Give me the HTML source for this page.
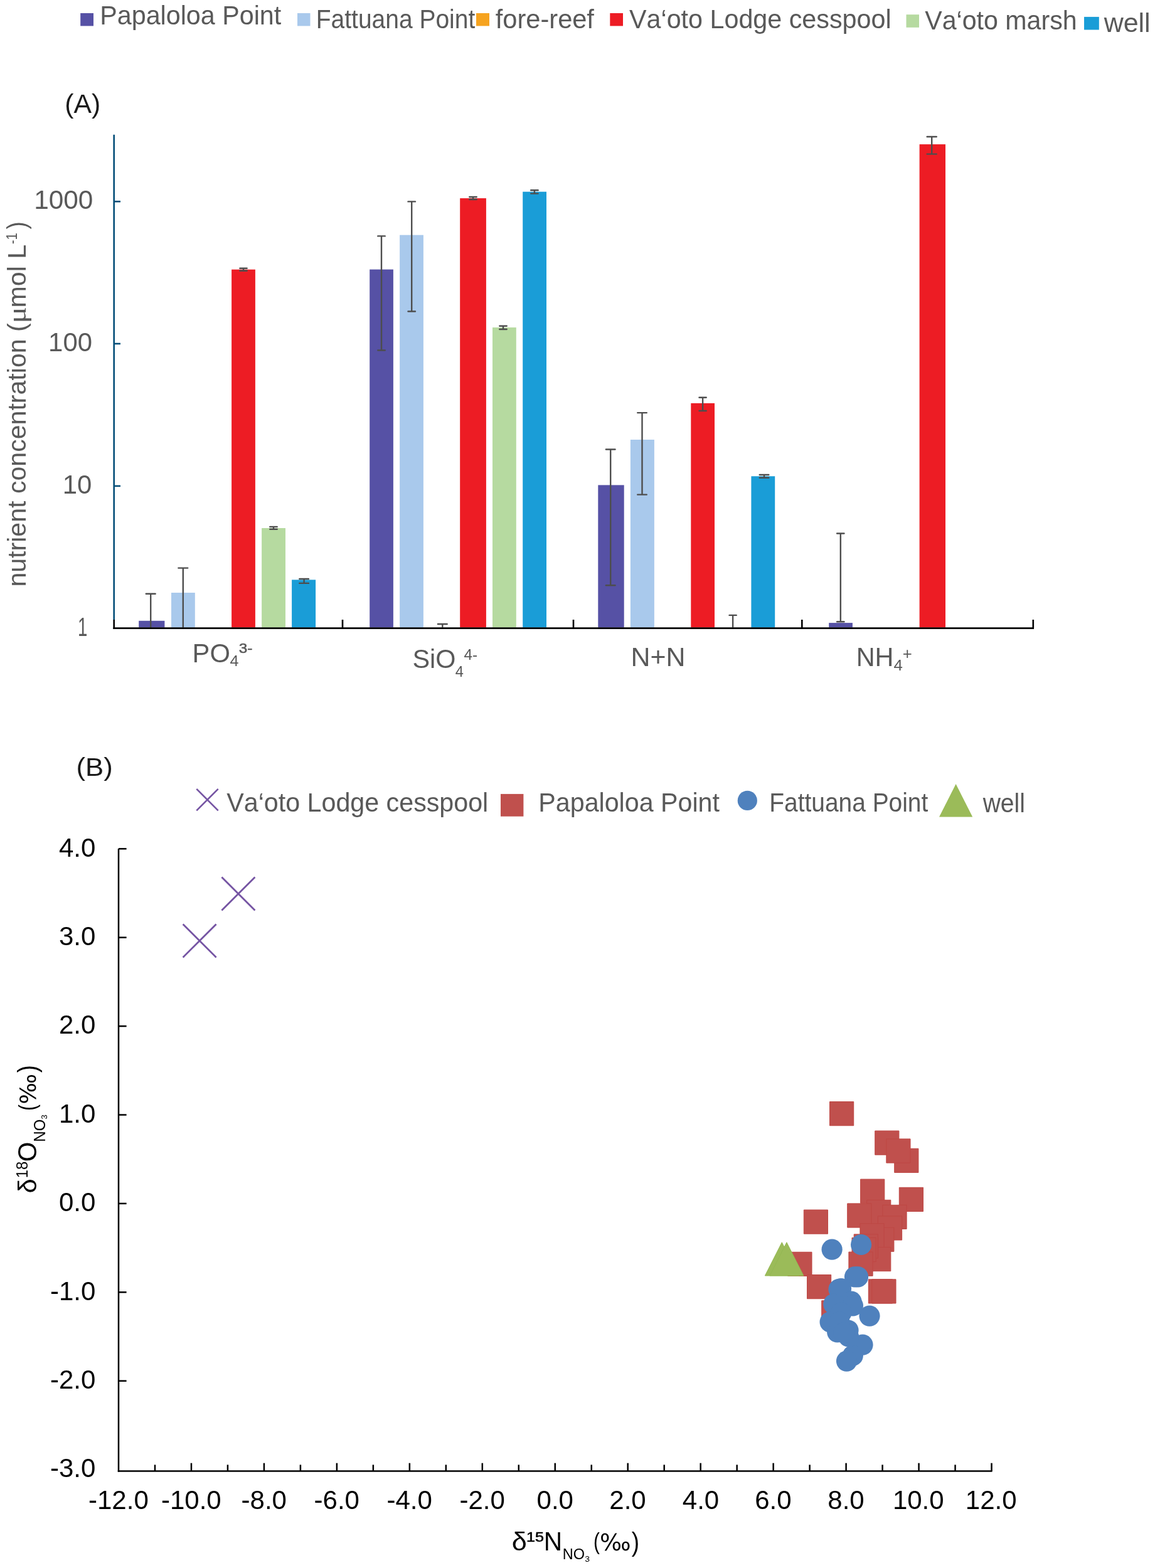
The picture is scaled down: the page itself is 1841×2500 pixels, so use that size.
<!DOCTYPE html>
<html><head><meta charset="utf-8"><title>Figure</title>
<style>html,body{margin:0;padding:0;background:#fff;width:1841px;height:2500px;overflow:hidden}svg{display:block}</style></head>
<body><svg width="1841" height="2500" viewBox="0 0 1841 2500">
<rect width="1841" height="2500" fill="#fff"/>
<rect x="128.20" y="21.00" width="20.80" height="20.40" fill="#5651A5" />
<text x="159.21" y="39.30" textLength="289.09" lengthAdjust="spacingAndGlyphs" style="font-family:'Liberation Sans',Arial,sans-serif;font-size:42px;fill:#595959;font-kerning:none" >Papaloloa Point</text>
<rect x="474.00" y="21.00" width="20.50" height="20.40" fill="#A9C9EC" />
<text x="503.80" y="45.00" textLength="253.48" lengthAdjust="spacingAndGlyphs" style="font-family:'Liberation Sans',Arial,sans-serif;font-size:42px;fill:#595959;font-kerning:none" >Fattuana Point</text>
<rect x="759.00" y="21.00" width="21.00" height="20.40" fill="#F6A31F" />
<text x="789.81" y="45.00" textLength="157.13" lengthAdjust="spacingAndGlyphs" style="font-family:'Liberation Sans',Arial,sans-serif;font-size:42px;fill:#595959;font-kerning:none" >fore-reef</text>
<rect x="972.30" y="21.00" width="20.70" height="20.40" fill="#ED1C24" />
<text x="1003.02" y="45.00" textLength="417.54" lengthAdjust="spacingAndGlyphs" style="font-family:'Liberation Sans',Arial,sans-serif;font-size:42px;fill:#595959;font-kerning:none" >Va‘oto Lodge cesspool</text>
<rect x="1444.50" y="23.20" width="20.50" height="20.60" fill="#B6DAA0" />
<text x="1474.22" y="47.20" textLength="242.45" lengthAdjust="spacingAndGlyphs" style="font-family:'Liberation Sans',Arial,sans-serif;font-size:42px;fill:#595959;font-kerning:none" >Va‘oto marsh</text>
<rect x="1728.00" y="26.90" width="23.80" height="20.60" fill="#1A9DD7" />
<text x="1759.66" y="50.60" textLength="74.01" lengthAdjust="spacingAndGlyphs" style="font-family:'Liberation Sans',Arial,sans-serif;font-size:42px;fill:#595959;font-kerning:none" >well</text>
<text x="103.15" y="179.90" textLength="57.00" lengthAdjust="spacingAndGlyphs" style="font-family:'Liberation Sans',Arial,sans-serif;font-size:42px;fill:#1a1a1a;font-kerning:none" >(A)</text>
<rect x="221.20" y="989.80" width="41.20" height="10.70" fill="#5651A5" />
<rect x="273.00" y="945.00" width="37.80" height="55.50" fill="#A9C9EC" />
<rect x="369.10" y="429.70" width="37.80" height="570.80" fill="#ED1C24" />
<rect x="417.10" y="842.00" width="37.90" height="158.50" fill="#B6DAA0" />
<rect x="465.10" y="924.40" width="38.00" height="76.10" fill="#1A9DD7" />
<rect x="589.20" y="429.60" width="37.70" height="570.90" fill="#5651A5" />
<rect x="637.10" y="374.70" width="37.80" height="625.80" fill="#A9C9EC" />
<rect x="733.20" y="316.10" width="41.70" height="684.40" fill="#ED1C24" />
<rect x="785.00" y="522.10" width="37.80" height="478.40" fill="#B6DAA0" />
<rect x="833.20" y="305.70" width="37.80" height="694.80" fill="#1A9DD7" />
<rect x="953.30" y="773.40" width="41.40" height="227.10" fill="#5651A5" />
<rect x="1004.90" y="701.00" width="38.00" height="299.50" fill="#A9C9EC" />
<rect x="1101.30" y="642.90" width="37.70" height="357.60" fill="#ED1C24" />
<rect x="1197.40" y="759.30" width="37.80" height="241.20" fill="#1A9DD7" />
<rect x="1321.20" y="993.10" width="37.70" height="7.40" fill="#5651A5" />
<rect x="1465.60" y="230.10" width="41.40" height="770.40" fill="#ED1C24" />
<line x1="240.20" y1="946.70" x2="240.20" y2="1000.50" stroke="#4D4D4D" stroke-width="2.4"/>
<line x1="232.75" y1="946.70" x2="247.65" y2="946.70" stroke="#4D4D4D" stroke-width="2.4" stroke-linecap="round"/>
<line x1="291.80" y1="905.60" x2="291.80" y2="1000.50" stroke="#4D4D4D" stroke-width="2.4"/>
<line x1="284.40" y1="905.60" x2="299.20" y2="905.60" stroke="#4D4D4D" stroke-width="2.4" stroke-linecap="round"/>
<line x1="388.00" y1="427.70" x2="388.00" y2="431.80" stroke="#4D4D4D" stroke-width="2.4"/>
<line x1="382.40" y1="427.70" x2="393.60" y2="427.70" stroke="#4D4D4D" stroke-width="2.4" stroke-linecap="round"/>
<line x1="382.40" y1="431.80" x2="393.60" y2="431.80" stroke="#4D4D4D" stroke-width="2.4" stroke-linecap="round"/>
<line x1="436.00" y1="839.90" x2="436.00" y2="843.80" stroke="#4D4D4D" stroke-width="2.4"/>
<line x1="430.30" y1="839.90" x2="441.70" y2="839.90" stroke="#4D4D4D" stroke-width="2.4" stroke-linecap="round"/>
<line x1="430.30" y1="843.80" x2="441.70" y2="843.80" stroke="#4D4D4D" stroke-width="2.4" stroke-linecap="round"/>
<line x1="484.60" y1="923.00" x2="484.60" y2="929.90" stroke="#4D4D4D" stroke-width="2.4"/>
<line x1="477.30" y1="923.00" x2="491.90" y2="923.00" stroke="#4D4D4D" stroke-width="2.4" stroke-linecap="round"/>
<line x1="477.30" y1="929.90" x2="491.90" y2="929.90" stroke="#4D4D4D" stroke-width="2.4" stroke-linecap="round"/>
<line x1="608.00" y1="376.40" x2="608.00" y2="558.50" stroke="#4D4D4D" stroke-width="2.4"/>
<line x1="602.30" y1="376.40" x2="613.70" y2="376.40" stroke="#4D4D4D" stroke-width="2.4" stroke-linecap="round"/>
<line x1="602.30" y1="558.50" x2="613.70" y2="558.50" stroke="#4D4D4D" stroke-width="2.4" stroke-linecap="round"/>
<line x1="656.20" y1="321.40" x2="656.20" y2="496.50" stroke="#4D4D4D" stroke-width="2.4"/>
<line x1="650.50" y1="321.40" x2="661.90" y2="321.40" stroke="#4D4D4D" stroke-width="2.4" stroke-linecap="round"/>
<line x1="650.50" y1="496.50" x2="661.90" y2="496.50" stroke="#4D4D4D" stroke-width="2.4" stroke-linecap="round"/>
<line x1="705.30" y1="995.00" x2="705.30" y2="1000.50" stroke="#4D4D4D" stroke-width="2.4"/>
<line x1="697.90" y1="995.00" x2="712.70" y2="995.00" stroke="#4D4D4D" stroke-width="2.4" stroke-linecap="round"/>
<line x1="754.00" y1="314.00" x2="754.00" y2="318.00" stroke="#4D4D4D" stroke-width="2.4"/>
<line x1="748.30" y1="314.00" x2="759.70" y2="314.00" stroke="#4D4D4D" stroke-width="2.4" stroke-linecap="round"/>
<line x1="748.30" y1="318.00" x2="759.70" y2="318.00" stroke="#4D4D4D" stroke-width="2.4" stroke-linecap="round"/>
<line x1="802.00" y1="519.70" x2="802.00" y2="525.00" stroke="#4D4D4D" stroke-width="2.4"/>
<line x1="796.30" y1="519.70" x2="807.70" y2="519.70" stroke="#4D4D4D" stroke-width="2.4" stroke-linecap="round"/>
<line x1="796.30" y1="525.00" x2="807.70" y2="525.00" stroke="#4D4D4D" stroke-width="2.4" stroke-linecap="round"/>
<line x1="851.90" y1="303.20" x2="851.90" y2="308.60" stroke="#4D4D4D" stroke-width="2.4"/>
<line x1="846.20" y1="303.20" x2="857.60" y2="303.20" stroke="#4D4D4D" stroke-width="2.4" stroke-linecap="round"/>
<line x1="846.20" y1="308.60" x2="857.60" y2="308.60" stroke="#4D4D4D" stroke-width="2.4" stroke-linecap="round"/>
<line x1="973.20" y1="716.50" x2="973.20" y2="933.20" stroke="#4D4D4D" stroke-width="2.4"/>
<line x1="965.90" y1="716.50" x2="980.50" y2="716.50" stroke="#4D4D4D" stroke-width="2.4" stroke-linecap="round"/>
<line x1="965.90" y1="933.20" x2="980.50" y2="933.20" stroke="#4D4D4D" stroke-width="2.4" stroke-linecap="round"/>
<line x1="1023.50" y1="658.10" x2="1023.50" y2="788.60" stroke="#4D4D4D" stroke-width="2.4"/>
<line x1="1016.20" y1="658.10" x2="1030.80" y2="658.10" stroke="#4D4D4D" stroke-width="2.4" stroke-linecap="round"/>
<line x1="1016.20" y1="788.60" x2="1030.80" y2="788.60" stroke="#4D4D4D" stroke-width="2.4" stroke-linecap="round"/>
<line x1="1120.10" y1="633.70" x2="1120.10" y2="655.00" stroke="#4D4D4D" stroke-width="2.4"/>
<line x1="1114.50" y1="633.70" x2="1125.70" y2="633.70" stroke="#4D4D4D" stroke-width="2.4" stroke-linecap="round"/>
<line x1="1114.50" y1="655.00" x2="1125.70" y2="655.00" stroke="#4D4D4D" stroke-width="2.4" stroke-linecap="round"/>
<line x1="1168.10" y1="980.90" x2="1168.10" y2="1000.50" stroke="#4D4D4D" stroke-width="2.4"/>
<line x1="1162.50" y1="980.90" x2="1173.70" y2="980.90" stroke="#4D4D4D" stroke-width="2.4" stroke-linecap="round"/>
<line x1="1218.00" y1="757.00" x2="1218.00" y2="761.70" stroke="#4D4D4D" stroke-width="2.4"/>
<line x1="1210.70" y1="757.00" x2="1225.30" y2="757.00" stroke="#4D4D4D" stroke-width="2.4" stroke-linecap="round"/>
<line x1="1210.70" y1="761.70" x2="1225.30" y2="761.70" stroke="#4D4D4D" stroke-width="2.4" stroke-linecap="round"/>
<line x1="1339.80" y1="850.50" x2="1339.80" y2="991.20" stroke="#4D4D4D" stroke-width="2.4"/>
<line x1="1334.15" y1="850.50" x2="1345.45" y2="850.50" stroke="#4D4D4D" stroke-width="2.4" stroke-linecap="round"/>
<line x1="1334.15" y1="991.20" x2="1345.45" y2="991.20" stroke="#4D4D4D" stroke-width="2.4" stroke-linecap="round"/>
<line x1="1485.20" y1="218.00" x2="1485.20" y2="245.60" stroke="#4D4D4D" stroke-width="2.4"/>
<line x1="1477.65" y1="218.00" x2="1492.75" y2="218.00" stroke="#4D4D4D" stroke-width="2.4" stroke-linecap="round"/>
<line x1="1477.65" y1="245.60" x2="1492.75" y2="245.60" stroke="#4D4D4D" stroke-width="2.4" stroke-linecap="round"/>
<line x1="181.70" y1="214.70" x2="181.70" y2="988.00" stroke="#044E78" stroke-width="2.6"/>
<line x1="181.70" y1="988.00" x2="181.70" y2="1003.00" stroke="#000" stroke-width="2.6"/>
<line x1="181.70" y1="321.30" x2="192.00" y2="321.30" stroke="#044E78" stroke-width="2.6"/>
<line x1="181.70" y1="548.00" x2="192.00" y2="548.00" stroke="#044E78" stroke-width="2.6"/>
<line x1="181.70" y1="774.90" x2="192.00" y2="774.90" stroke="#044E78" stroke-width="2.6"/>
<line x1="180.40" y1="1001.70" x2="1648.00" y2="1001.70" stroke="#000" stroke-width="2.8"/>
<line x1="546.00" y1="988.00" x2="546.00" y2="1001.70" stroke="#000" stroke-width="2.6"/>
<line x1="914.00" y1="988.00" x2="914.00" y2="1001.70" stroke="#000" stroke-width="2.6"/>
<line x1="1278.30" y1="988.00" x2="1278.30" y2="1001.70" stroke="#000" stroke-width="2.6"/>
<line x1="1646.80" y1="988.00" x2="1646.80" y2="1001.70" stroke="#000" stroke-width="2.6"/>
<text x="54.18" y="333.40" textLength="94.18" lengthAdjust="spacingAndGlyphs" style="font-family:'Liberation Sans',Arial,sans-serif;font-size:42px;fill:#595959;font-kerning:none" >1000</text>
<text x="77.11" y="560.00" textLength="69.82" lengthAdjust="spacingAndGlyphs" style="font-family:'Liberation Sans',Arial,sans-serif;font-size:42px;fill:#595959;font-kerning:none" >100</text>
<text x="99.81" y="787.00" textLength="46.63" lengthAdjust="spacingAndGlyphs" style="font-family:'Liberation Sans',Arial,sans-serif;font-size:42px;fill:#595959;font-kerning:none" >10</text>
<text x="123.90" y="1013.90" textLength="15.35" lengthAdjust="spacingAndGlyphs" style="font-family:'Liberation Sans',Arial,sans-serif;font-size:42px;fill:#595959;font-kerning:none" >1</text>
<text x="306.58" y="1055.70" textLength="60.32" lengthAdjust="spacingAndGlyphs" style="font-family:'Liberation Sans',Arial,sans-serif;font-size:42px;fill:#595959;font-kerning:none" >PO</text>
<text x="366.62" y="1061.90" textLength="14.02" lengthAdjust="spacingAndGlyphs" style="font-family:'Liberation Sans',Arial,sans-serif;font-size:24px;fill:#595959;font-kerning:none" >4</text>
<text x="380.67" y="1041.40" textLength="21.61" lengthAdjust="spacingAndGlyphs" style="font-family:'Liberation Sans',Arial,sans-serif;font-size:22px;fill:#595959;font-kerning:none" stroke="#595959" stroke-width="0.6">3-</text>
<text x="657.42" y="1065.30" textLength="68.96" lengthAdjust="spacingAndGlyphs" style="font-family:'Liberation Sans',Arial,sans-serif;font-size:42px;fill:#595959;font-kerning:none" >SiO</text>
<text x="725.76" y="1078.70" textLength="13.13" lengthAdjust="spacingAndGlyphs" style="font-family:'Liberation Sans',Arial,sans-serif;font-size:24px;fill:#595959;font-kerning:none" >4</text>
<text x="739.44" y="1051.50" textLength="21.64" lengthAdjust="spacingAndGlyphs" style="font-family:'Liberation Sans',Arial,sans-serif;font-size:24px;fill:#595959;font-kerning:none" >4-</text>
<text x="1005.49" y="1062.30" textLength="86.91" lengthAdjust="spacingAndGlyphs" style="font-family:'Liberation Sans',Arial,sans-serif;font-size:42px;fill:#595959;font-kerning:none" >N+N</text>
<text x="1364.71" y="1062.30" textLength="59.77" lengthAdjust="spacingAndGlyphs" style="font-family:'Liberation Sans',Arial,sans-serif;font-size:42px;fill:#595959;font-kerning:none" >NH</text>
<text x="1424.61" y="1068.50" textLength="14.35" lengthAdjust="spacingAndGlyphs" style="font-family:'Liberation Sans',Arial,sans-serif;font-size:24px;fill:#595959;font-kerning:none" >4</text>
<text x="1438.64" y="1051.00" textLength="15.03" lengthAdjust="spacingAndGlyphs" style="font-family:'Liberation Sans',Arial,sans-serif;font-size:26px;fill:#595959;font-kerning:none" >+</text>
<text transform="translate(40.80,932.90) rotate(-90)" x="-2.73" y="0" textLength="420.37" lengthAdjust="spacingAndGlyphs" style="font-family:'Liberation Sans',Arial,sans-serif;font-size:41px;fill:#595959;font-kerning:none">nutrient concentration (</text>
<text transform="translate(40.90,511.50) rotate(-90)" x="-3.97" y="0" textLength="26.28" lengthAdjust="spacingAndGlyphs" style="font-family:'Liberation Serif',serif;font-size:41px;fill:#595959;font-kerning:none">μ</text>
<text transform="translate(40.90,487.80) rotate(-90)" x="-2.73" y="0" textLength="100.70" lengthAdjust="spacingAndGlyphs" style="font-family:'Liberation Sans',Arial,sans-serif;font-size:41px;fill:#595959;font-kerning:none">mol L</text>
<text transform="translate(26.90,388.30) rotate(-90)" x="-0.90" y="0" textLength="18.10" lengthAdjust="spacingAndGlyphs" style="font-family:'Liberation Sans',Arial,sans-serif;font-size:24px;fill:#595959;font-kerning:none">-1</text>
<text transform="translate(40.90,365.30) rotate(-90)" x="-0.21" y="0" textLength="12.18" lengthAdjust="spacingAndGlyphs" style="font-family:'Liberation Sans',Arial,sans-serif;font-size:42px;fill:#595959;font-kerning:none">)</text>
<text x="121.49" y="1237.20" textLength="58.22" lengthAdjust="spacingAndGlyphs" style="font-family:'Liberation Sans',Arial,sans-serif;font-size:41px;fill:#1a1a1a;font-kerning:none" >(B)</text>
<path d="M313.30,1257.90L347.70,1292.30M313.30,1292.30L347.70,1257.90" stroke="#7554A3" stroke-width="2.6" fill="none"/>
<text x="361.32" y="1294.20" textLength="416.94" lengthAdjust="spacingAndGlyphs" style="font-family:'Liberation Sans',Arial,sans-serif;font-size:42px;fill:#595959;font-kerning:none" >Va‘oto Lodge cesspool</text>
<rect x="798.00" y="1265.90" width="36.40" height="35.80" fill="#C0504D" />
<text x="858.32" y="1293.80" textLength="288.68" lengthAdjust="spacingAndGlyphs" style="font-family:'Liberation Sans',Arial,sans-serif;font-size:42px;fill:#595959;font-kerning:none" >Papaloloa Point</text>
<circle cx="1191.3" cy="1276.4" r="15.6" fill="#4F81BD"/>
<text x="1226.31" y="1293.80" textLength="252.98" lengthAdjust="spacingAndGlyphs" style="font-family:'Liberation Sans',Arial,sans-serif;font-size:42px;fill:#595959;font-kerning:none" >Fattuana Point</text>
<polygon points="1523.6,1250 1550.2,1302.6 1497,1302.6" fill="#9BBB59"/>
<text x="1566.66" y="1295.40" textLength="67.25" lengthAdjust="spacingAndGlyphs" style="font-family:'Liberation Sans',Arial,sans-serif;font-size:42px;fill:#595959;font-kerning:none" >well</text>
<line x1="189.00" y1="1353.30" x2="189.00" y2="2346.80" stroke="#000" stroke-width="2.5"/>
<line x1="189.00" y1="1353.30" x2="201.60" y2="1353.30" stroke="#000" stroke-width="2.5"/>
<line x1="189.00" y1="1494.70" x2="201.60" y2="1494.70" stroke="#000" stroke-width="2.5"/>
<line x1="189.00" y1="1636.10" x2="201.60" y2="1636.10" stroke="#000" stroke-width="2.5"/>
<line x1="189.00" y1="1777.50" x2="201.60" y2="1777.50" stroke="#000" stroke-width="2.5"/>
<line x1="189.00" y1="1918.90" x2="201.60" y2="1918.90" stroke="#000" stroke-width="2.5"/>
<line x1="189.00" y1="2060.30" x2="201.60" y2="2060.30" stroke="#000" stroke-width="2.5"/>
<line x1="189.00" y1="2201.70" x2="201.60" y2="2201.70" stroke="#000" stroke-width="2.5"/>
<line x1="187.80" y1="2345.50" x2="1581.50" y2="2345.50" stroke="#000" stroke-width="2.6"/>
<line x1="246.98" y1="2335.40" x2="246.98" y2="2345.50" stroke="#000" stroke-width="2.5"/>
<line x1="304.96" y1="2332.70" x2="304.96" y2="2345.50" stroke="#000" stroke-width="2.5"/>
<line x1="362.94" y1="2335.40" x2="362.94" y2="2345.50" stroke="#000" stroke-width="2.5"/>
<line x1="420.92" y1="2332.70" x2="420.92" y2="2345.50" stroke="#000" stroke-width="2.5"/>
<line x1="478.90" y1="2335.40" x2="478.90" y2="2345.50" stroke="#000" stroke-width="2.5"/>
<line x1="536.88" y1="2332.70" x2="536.88" y2="2345.50" stroke="#000" stroke-width="2.5"/>
<line x1="594.86" y1="2335.40" x2="594.86" y2="2345.50" stroke="#000" stroke-width="2.5"/>
<line x1="652.84" y1="2332.70" x2="652.84" y2="2345.50" stroke="#000" stroke-width="2.5"/>
<line x1="710.82" y1="2335.40" x2="710.82" y2="2345.50" stroke="#000" stroke-width="2.5"/>
<line x1="768.80" y1="2332.70" x2="768.80" y2="2345.50" stroke="#000" stroke-width="2.5"/>
<line x1="826.78" y1="2335.40" x2="826.78" y2="2345.50" stroke="#000" stroke-width="2.5"/>
<line x1="884.76" y1="2332.70" x2="884.76" y2="2345.50" stroke="#000" stroke-width="2.5"/>
<line x1="942.74" y1="2335.40" x2="942.74" y2="2345.50" stroke="#000" stroke-width="2.5"/>
<line x1="1000.72" y1="2332.70" x2="1000.72" y2="2345.50" stroke="#000" stroke-width="2.5"/>
<line x1="1058.70" y1="2335.40" x2="1058.70" y2="2345.50" stroke="#000" stroke-width="2.5"/>
<line x1="1116.68" y1="2332.70" x2="1116.68" y2="2345.50" stroke="#000" stroke-width="2.5"/>
<line x1="1174.66" y1="2335.40" x2="1174.66" y2="2345.50" stroke="#000" stroke-width="2.5"/>
<line x1="1232.64" y1="2332.70" x2="1232.64" y2="2345.50" stroke="#000" stroke-width="2.5"/>
<line x1="1290.62" y1="2335.40" x2="1290.62" y2="2345.50" stroke="#000" stroke-width="2.5"/>
<line x1="1348.60" y1="2332.70" x2="1348.60" y2="2345.50" stroke="#000" stroke-width="2.5"/>
<line x1="1406.58" y1="2335.40" x2="1406.58" y2="2345.50" stroke="#000" stroke-width="2.5"/>
<line x1="1464.56" y1="2332.70" x2="1464.56" y2="2345.50" stroke="#000" stroke-width="2.5"/>
<line x1="1522.54" y1="2335.40" x2="1522.54" y2="2345.50" stroke="#000" stroke-width="2.5"/>
<line x1="1580.52" y1="2332.70" x2="1580.52" y2="2345.50" stroke="#000" stroke-width="2.5"/>
<text x="93.95" y="1365.60" textLength="58.39" lengthAdjust="spacingAndGlyphs" style="font-family:'Liberation Sans',Arial,sans-serif;font-size:42px;fill:#000;font-kerning:none" >4.0</text>
<text x="93.95" y="1507.00" textLength="58.39" lengthAdjust="spacingAndGlyphs" style="font-family:'Liberation Sans',Arial,sans-serif;font-size:42px;fill:#000;font-kerning:none" >3.0</text>
<text x="93.95" y="1648.40" textLength="58.39" lengthAdjust="spacingAndGlyphs" style="font-family:'Liberation Sans',Arial,sans-serif;font-size:42px;fill:#000;font-kerning:none" >2.0</text>
<text x="93.95" y="1789.80" textLength="58.39" lengthAdjust="spacingAndGlyphs" style="font-family:'Liberation Sans',Arial,sans-serif;font-size:42px;fill:#000;font-kerning:none" >1.0</text>
<text x="93.95" y="1931.20" textLength="58.39" lengthAdjust="spacingAndGlyphs" style="font-family:'Liberation Sans',Arial,sans-serif;font-size:42px;fill:#000;font-kerning:none" >0.0</text>
<text x="79.97" y="2072.60" textLength="72.37" lengthAdjust="spacingAndGlyphs" style="font-family:'Liberation Sans',Arial,sans-serif;font-size:42px;fill:#000;font-kerning:none" >-1.0</text>
<text x="79.97" y="2214.00" textLength="72.37" lengthAdjust="spacingAndGlyphs" style="font-family:'Liberation Sans',Arial,sans-serif;font-size:42px;fill:#000;font-kerning:none" >-2.0</text>
<text x="79.97" y="2355.40" textLength="72.37" lengthAdjust="spacingAndGlyphs" style="font-family:'Liberation Sans',Arial,sans-serif;font-size:42px;fill:#000;font-kerning:none" >-3.0</text>
<text x="141.02" y="2406.30" textLength="95.73" lengthAdjust="spacingAndGlyphs" style="font-family:'Liberation Sans',Arial,sans-serif;font-size:42px;fill:#000;font-kerning:none" >-12.0</text>
<text x="256.98" y="2406.30" textLength="95.73" lengthAdjust="spacingAndGlyphs" style="font-family:'Liberation Sans',Arial,sans-serif;font-size:42px;fill:#000;font-kerning:none" >-10.0</text>
<text x="384.62" y="2406.30" textLength="72.37" lengthAdjust="spacingAndGlyphs" style="font-family:'Liberation Sans',Arial,sans-serif;font-size:42px;fill:#000;font-kerning:none" >-8.0</text>
<text x="500.58" y="2406.30" textLength="72.37" lengthAdjust="spacingAndGlyphs" style="font-family:'Liberation Sans',Arial,sans-serif;font-size:42px;fill:#000;font-kerning:none" >-6.0</text>
<text x="616.54" y="2406.30" textLength="72.37" lengthAdjust="spacingAndGlyphs" style="font-family:'Liberation Sans',Arial,sans-serif;font-size:42px;fill:#000;font-kerning:none" >-4.0</text>
<text x="732.50" y="2406.30" textLength="72.37" lengthAdjust="spacingAndGlyphs" style="font-family:'Liberation Sans',Arial,sans-serif;font-size:42px;fill:#000;font-kerning:none" >-2.0</text>
<text x="855.57" y="2406.30" textLength="58.39" lengthAdjust="spacingAndGlyphs" style="font-family:'Liberation Sans',Arial,sans-serif;font-size:42px;fill:#000;font-kerning:none" >0.0</text>
<text x="971.29" y="2406.30" textLength="58.39" lengthAdjust="spacingAndGlyphs" style="font-family:'Liberation Sans',Arial,sans-serif;font-size:42px;fill:#000;font-kerning:none" >2.0</text>
<text x="1087.83" y="2406.30" textLength="58.39" lengthAdjust="spacingAndGlyphs" style="font-family:'Liberation Sans',Arial,sans-serif;font-size:42px;fill:#000;font-kerning:none" >4.0</text>
<text x="1203.20" y="2406.30" textLength="58.39" lengthAdjust="spacingAndGlyphs" style="font-family:'Liberation Sans',Arial,sans-serif;font-size:42px;fill:#000;font-kerning:none" >6.0</text>
<text x="1319.31" y="2406.30" textLength="58.39" lengthAdjust="spacingAndGlyphs" style="font-family:'Liberation Sans',Arial,sans-serif;font-size:42px;fill:#000;font-kerning:none" >8.0</text>
<text x="1422.91" y="2406.30" textLength="81.74" lengthAdjust="spacingAndGlyphs" style="font-family:'Liberation Sans',Arial,sans-serif;font-size:42px;fill:#000;font-kerning:none" >10.0</text>
<text x="1538.87" y="2406.30" textLength="81.74" lengthAdjust="spacingAndGlyphs" style="font-family:'Liberation Sans',Arial,sans-serif;font-size:42px;fill:#000;font-kerning:none" >12.0</text>
<text transform="translate(57.80,1900.70) rotate(-90)" x="-1.75" y="0" textLength="23.22" lengthAdjust="spacingAndGlyphs" style="font-family:'Liberation Sans',Arial,sans-serif;font-size:41.4px;fill:#000;font-kerning:none">δ</text>
<text transform="translate(44.00,1876.40) rotate(-90)" x="-1.82" y="0" textLength="26.56" lengthAdjust="spacingAndGlyphs" style="font-family:'Liberation Sans',Arial,sans-serif;font-size:25px;fill:#000;font-kerning:none">18</text>
<text transform="translate(57.80,1850.40) rotate(-90)" x="-1.93" y="0" textLength="31.68" lengthAdjust="spacingAndGlyphs" style="font-family:'Liberation Sans',Arial,sans-serif;font-size:42px;fill:#000;font-kerning:none">O</text>
<text transform="translate(71.80,1818.80) rotate(-90)" x="-1.98" y="0" textLength="36.13" lengthAdjust="spacingAndGlyphs" style="font-family:'Liberation Sans',Arial,sans-serif;font-size:25.6px;fill:#000;font-kerning:none">NO</text>
<text transform="translate(74.90,1783.90) rotate(-90)" x="-0.50" y="0" textLength="7.27" lengthAdjust="spacingAndGlyphs" style="font-family:'Liberation Sans',Arial,sans-serif;font-size:13.3px;fill:#000;font-kerning:none">3</text>
<text transform="translate(55.50,1768.90) rotate(-90)" x="-1.82" y="0" textLength="9.80" lengthAdjust="spacingAndGlyphs" style="font-family:'Liberation Sans',Arial,sans-serif;font-size:36.8px;fill:#000;font-kerning:none">(</text>
<text transform="translate(57.20,1758.60) rotate(-90)" x="-2.00" y="0" textLength="48.58" lengthAdjust="spacingAndGlyphs" style="font-family:'DejaVu Sans',sans-serif;font-size:36.2px;fill:#000;font-kerning:none">‰</text>
<text transform="translate(57.90,1710.10) rotate(-90)" x="-0.21" y="0" textLength="12.06" lengthAdjust="spacingAndGlyphs" style="font-family:'Liberation Sans',Arial,sans-serif;font-size:41.9px;fill:#000;font-kerning:none">)</text>
<text x="815.79" y="2472.40" textLength="24.05" lengthAdjust="spacingAndGlyphs" style="font-family:'Liberation Sans',Arial,sans-serif;font-size:41px;fill:#000;font-kerning:none" >δ</text>
<text x="838.98" y="2458.00" textLength="27.97" lengthAdjust="spacingAndGlyphs" style="font-family:'Liberation Sans',Arial,sans-serif;font-size:22px;fill:#000;font-kerning:none" stroke="#000" stroke-width="0.6">15</text>
<text x="866.87" y="2472.10" textLength="29.35" lengthAdjust="spacingAndGlyphs" style="font-family:'Liberation Sans',Arial,sans-serif;font-size:42px;fill:#000;font-kerning:none" >N</text>
<text x="896.67" y="2485.90" textLength="35.25" lengthAdjust="spacingAndGlyphs" style="font-family:'Liberation Sans',Arial,sans-serif;font-size:24px;fill:#000;font-kerning:none" >NO</text>
<text x="932.37" y="2489.50" textLength="7.74" lengthAdjust="spacingAndGlyphs" style="font-family:'Liberation Sans',Arial,sans-serif;font-size:13.5px;fill:#000;font-kerning:none" >3</text>
<text x="946.05" y="2470.10" textLength="9.92" lengthAdjust="spacingAndGlyphs" style="font-family:'Liberation Sans',Arial,sans-serif;font-size:36.9px;fill:#000;font-kerning:none" >(</text>
<text x="955.96" y="2472.30" textLength="49.56" lengthAdjust="spacingAndGlyphs" style="font-family:'DejaVu Sans',sans-serif;font-size:36.8px;fill:#000;font-kerning:none" >‰</text>
<text x="1006.78" y="2472.50" textLength="12.31" lengthAdjust="spacingAndGlyphs" style="font-family:'Liberation Sans',Arial,sans-serif;font-size:42.1px;fill:#000;font-kerning:none" >)</text>
<g>
<path d="M353.40,1398.40L406.40,1451.40M353.40,1451.40L406.40,1398.40" stroke="#7554A3" stroke-width="2.8" fill="none"/>
<path d="M291.60,1473.40L344.60,1526.40M291.60,1526.40L344.60,1473.40" stroke="#7554A3" stroke-width="2.8" fill="none"/>
</g>
<rect x="1322.50" y="1756.50" width="38.2" height="38.2" fill="#C0504D" stroke="#BE4744" stroke-width="1" stroke-linejoin="round"/>
<rect x="1394.70" y="1803.00" width="38.2" height="38.2" fill="#C0504D" stroke="#BE4744" stroke-width="1" stroke-linejoin="round"/>
<rect x="1425.70" y="1831.30" width="38.2" height="38.2" fill="#C0504D" stroke="#BE4744" stroke-width="1" stroke-linejoin="round"/>
<rect x="1412.80" y="1815.90" width="38.2" height="38.2" fill="#C0504D" stroke="#BE4744" stroke-width="1" stroke-linejoin="round"/>
<rect x="1371.60" y="1880.10" width="38.2" height="38.2" fill="#C0504D" stroke="#BE4744" stroke-width="1" stroke-linejoin="round"/>
<rect x="1433.30" y="1893.30" width="38.2" height="38.2" fill="#C0504D" stroke="#BE4744" stroke-width="1" stroke-linejoin="round"/>
<rect x="1381.60" y="1913.30" width="38.2" height="38.2" fill="#C0504D" stroke="#BE4744" stroke-width="1" stroke-linejoin="round"/>
<rect x="1406.90" y="1921.30" width="38.2" height="38.2" fill="#C0504D" stroke="#BE4744" stroke-width="1" stroke-linejoin="round"/>
<rect x="1350.70" y="1918.90" width="38.2" height="38.2" fill="#C0504D" stroke="#BE4744" stroke-width="1" stroke-linejoin="round"/>
<rect x="1399.40" y="1938.90" width="38.2" height="38.2" fill="#C0504D" stroke="#BE4744" stroke-width="1" stroke-linejoin="round"/>
<rect x="1386.70" y="1957.20" width="38.2" height="38.2" fill="#C0504D" stroke="#BE4744" stroke-width="1" stroke-linejoin="round"/>
<rect x="1370.90" y="1950.90" width="38.2" height="38.2" fill="#C0504D" stroke="#BE4744" stroke-width="1" stroke-linejoin="round"/>
<rect x="1381.60" y="1988.50" width="38.2" height="38.2" fill="#C0504D" stroke="#BE4744" stroke-width="1" stroke-linejoin="round"/>
<rect x="1361.20" y="1967.90" width="38.2" height="38.2" fill="#C0504D" stroke="#BE4744" stroke-width="1" stroke-linejoin="round"/>
<rect x="1358.00" y="1973.40" width="38.2" height="38.2" fill="#C0504D" stroke="#BE4744" stroke-width="1" stroke-linejoin="round"/>
<rect x="1281.30" y="1929.00" width="38.2" height="38.2" fill="#C0504D" stroke="#BE4744" stroke-width="1" stroke-linejoin="round"/>
<rect x="1255.80" y="1996.30" width="38.2" height="38.2" fill="#C0504D" stroke="#BE4744" stroke-width="1" stroke-linejoin="round"/>
<rect x="1352.90" y="1996.10" width="38.2" height="38.2" fill="#C0504D" stroke="#BE4744" stroke-width="1" stroke-linejoin="round"/>
<rect x="1286.50" y="2032.50" width="38.2" height="38.2" fill="#C0504D" stroke="#BE4744" stroke-width="1" stroke-linejoin="round"/>
<rect x="1384.30" y="2039.80" width="38.2" height="38.2" fill="#C0504D" stroke="#BE4744" stroke-width="1" stroke-linejoin="round"/>
<rect x="1389.80" y="2039.80" width="38.2" height="38.2" fill="#C0504D" stroke="#BE4744" stroke-width="1" stroke-linejoin="round"/>
<rect x="1309.70" y="2073.70" width="38.2" height="38.2" fill="#C0504D" stroke="#BE4744" stroke-width="1" stroke-linejoin="round"/>
<polygon points="1246.30,1980.8 1273.30,2034 1219.30,2034" fill="#9BBB59" stroke="#94B853" stroke-width="1"/>
<polygon points="1253.90,1980.8 1280.90,2034 1226.90,2034" fill="#9BBB59" stroke="#94B853" stroke-width="1"/>
<circle cx="1326.10" cy="1992.20" r="16.6" fill="#4F81BD"/>
<circle cx="1372.60" cy="1984.50" r="16.6" fill="#4F81BD"/>
<circle cx="1362.50" cy="2035.80" r="16.6" fill="#4F81BD"/>
<circle cx="1367.50" cy="2035.80" r="16.6" fill="#4F81BD"/>
<circle cx="1337.00" cy="2055.70" r="16.6" fill="#4F81BD"/>
<circle cx="1340.50" cy="2054.50" r="16.6" fill="#4F81BD"/>
<circle cx="1357.00" cy="2075.20" r="16.6" fill="#4F81BD"/>
<circle cx="1359.40" cy="2081.90" r="16.6" fill="#4F81BD"/>
<circle cx="1328.80" cy="2079.30" r="16.6" fill="#4F81BD"/>
<circle cx="1386.00" cy="2098.20" r="16.6" fill="#4F81BD"/>
<circle cx="1323.10" cy="2107.80" r="16.6" fill="#4F81BD"/>
<circle cx="1352.00" cy="2121.00" r="16.6" fill="#4F81BD"/>
<circle cx="1334.70" cy="2124.00" r="16.6" fill="#4F81BD"/>
<circle cx="1375.00" cy="2144.20" r="16.6" fill="#4F81BD"/>
<circle cx="1359.30" cy="2161.30" r="16.6" fill="#4F81BD"/>
<circle cx="1349.50" cy="2170.20" r="16.6" fill="#4F81BD"/>
<circle cx="1341.00" cy="2093.00" r="16.6" fill="#4F81BD"/>
<circle cx="1338.00" cy="2108.00" r="16.6" fill="#4F81BD"/>
<circle cx="1352.50" cy="2131.00" r="16.6" fill="#4F81BD"/>
<circle cx="1345.00" cy="2125.00" r="16.6" fill="#4F81BD"/>
</svg></body></html>
